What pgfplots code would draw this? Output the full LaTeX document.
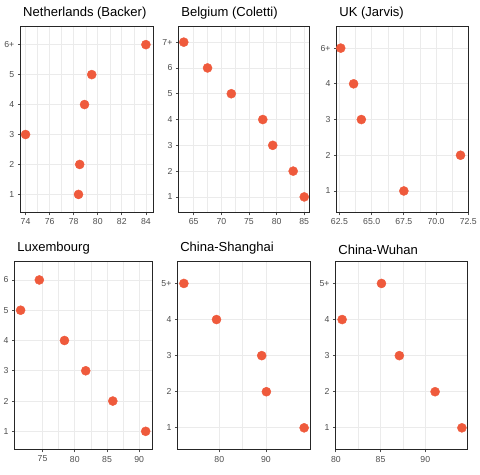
\documentclass[border=0pt]{standalone}
\usepackage{pgfplots}
\pgfplotsset{compat=1.18}
\usepackage{fontspec}
\setmainfont{Liberation Sans}
\definecolor{pt}{RGB}{239,90,60}
\definecolor{gr}{RGB}{235,235,235}
\definecolor{tk}{RGB}{77,77,77}
\pgfplotsset{panel/.style={scale only axis, anchor=south west,
  axis line style={black!85, line width=0.9pt},
  grid=both, major grid style={gr, line width=0.8pt}, minor grid style={gr, line width=0.4pt},
  tick style={black!70, line width=0.8pt}, major tick length=3pt, minor tick length=0pt,
  tick align=outside, xtick pos=bottom, ytick pos=left,
  ticklabel style={font=\fontsize{8.8}{10}\selectfont, text=tk},
  /pgf/number format/assume math mode=true,
  title style={font=\fontsize{13.2}{14}\selectfont, anchor=south west, at={(0,1)}, yshift=-2pt, xshift=-1pt},
  minor x tick num=1,
  ymin=0.4, ytick={1,...,7},
  mark=*, mark size=4.6pt}}
\begin{document}
\begin{tikzpicture}
\path (0pt,0pt) rectangle (480pt,480pt);
% top row
\begin{axis}[panel, at={(21pt,265pt)}, width=134pt, height=188pt, title={Netherlands (Backer)},
  xmin=73.6, xmax=84.6, xtick={74,76,...,84}, ymax=6.6, yticklabels={1,2,3,4,5,6+}]
\addplot[only marks, pt, mark=*] coordinates {(84,6)(79.5,5)(78.9,4)(74.0,3)(78.5,2)(78.4,1)};
\end{axis}
\begin{axis}[panel, at={(181pt,265pt)}, width=132pt, height=188pt, title={Belgium (Coletti)},
  xmin=62.3, xmax=85.9, xtick={65,70,...,85}, ymax=7.6, yticklabels={1,2,3,4,5,6,7+}]
\addplot[only marks, pt, mark=*] coordinates {(63.2,7)(67.5,6)(71.8,5)(77.5,4)(79.3,3)(83.0,2)(85.0,1)};
\end{axis}
\begin{axis}[panel, at={(341pt,265pt)}, width=133pt, height=188pt, title={UK (Jarvis)},
  xmin=62.3, xmax=72.5, xtick={62.5,65,67.5,70,72.5}, xticklabels={62.5,65.0,67.5,70.0,72.5},
  ymax=5.6, ytick={1,...,5}, yticklabels={1,2,3,4,6+}]
\addplot[only marks, pt, mark=*] coordinates {(62.6,5)(63.6,4)(64.2,3)(71.9,2)(67.5,1)};
\end{axis}
% bottom row
\begin{axis}[panel, at={(15pt,25pt)}, width=139pt, height=190pt, title={Luxembourg},
  xmin=70.7, xmax=92.0, xtick={75,80,...,90}, ymax=6.6, yticklabels={1,2,3,4,5,6}]
\addplot[only marks, pt, mark=*] coordinates {(74.5,6)(71.6,5)(78.4,4)(81.7,3)(85.9,2)(91.0,1)};
\end{axis}
\begin{axis}[panel, at={(180pt,25pt)}, width=134pt, height=190pt, title={China-Shanghai},
  xmin=71.1, xmax=99.5, xtick={80,90}, ymax=5.6, ytick={1,...,5}, yticklabels={1,2,3,4,5+}]
\addplot[only marks, pt, mark=*] coordinates {(72.4,5)(79.4,4)(89.1,3)(90.1,2)(98.2,1)};
\end{axis}
\begin{axis}[panel, at={(340pt,25pt)}, width=133pt, height=190pt, title={China-Wuhan},
  xmin=80, xmax=94.7, xtick={80,85,90}, ymax=5.6, ytick={1,...,5}, yticklabels={1,2,3,4,5+}]
\addplot[only marks, pt, mark=*] coordinates {(85.1,5)(80.7,4)(87.1,3)(91.1,2)(94.1,1)};
\end{axis}
\end{tikzpicture}
\end{document}
